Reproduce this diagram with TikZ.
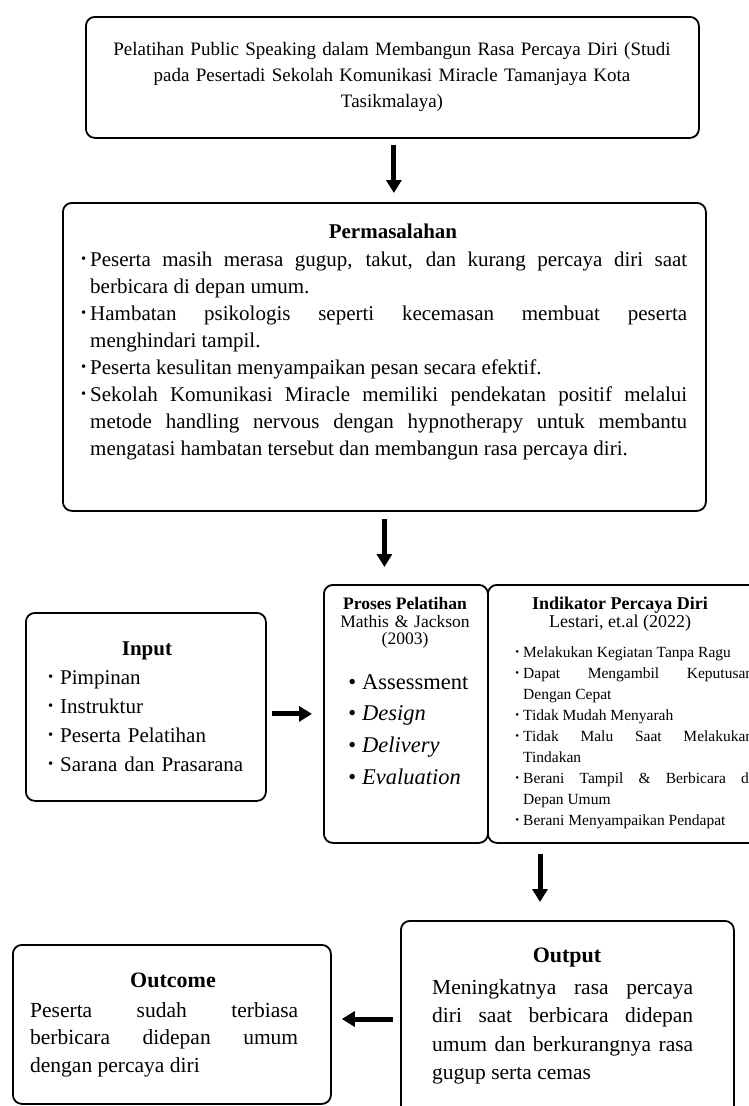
\documentclass[tikz,border=0pt]{standalone}
\usepackage{fontspec}
\setmainfont{Liberation Serif}
\usetikzlibrary{arrows.meta,calc}
\newcommand\smbul[1][4pt]{\leavevmode\llap{\raisebox{0.12em}{\scalebox{0.7}{\textbullet}}\hspace{#1}}}
\newcommand\bgbul[1][6pt]{\leavevmode\llap{\textbullet\hspace{#1}}}
\begin{document}
\begin{tikzpicture}[x=1pt,y=-1pt,
  box/.style={draw,line width=1.8pt,rounded corners=9pt,inner sep=0pt,anchor=north west},
  bigarrow/.style={line width=5pt,-{Triangle[width=15pt,length=13pt]}},
  txt/.style={inner sep=0pt,anchor=base},
  blk/.style={inner sep=0pt,anchor=base west,align=justify},
  ]
\useasboundingbox (0,0) rectangle (749,1106);
\clip (0,0) rectangle (749,1106);

% boxes
\node[box,minimum width=613pt,minimum height=121pt] (top) at (85,16) {};
\node[box,minimum width=643pt,minimum height=308pt] (masalah) at (62,202) {};
\node[box,minimum width=240pt,minimum height=188pt] (input) at (25,612) {};
\node[box,minimum width=164pt,minimum height=258pt] (proses) at (323,584) {};
\node[box,minimum width=283pt,minimum height=258pt] (indik) at (487,584) {};
\node[box,minimum width=333pt,minimum height=220pt] (output) at (400,920) {};
\node[box,minimum width=318pt,minimum height=159pt] (outcome) at (12,944) {};

% top text
\node[txt,text width=600pt,align=center,font=\fontsize{19}{26}\selectfont] (toptext) at (392,55)
 {Pelatihan Public Speaking dalam Membangun Rasa Percaya Diri (Studi\\pada Pesertadi Sekolah Komunikasi Miracle Tamanjaya Kota\\Tasikmalaya)};

% permasalahan
\node[txt,font=\bfseries\fontsize{21}{27}\selectfont] (mtitle) at (393,238) {Permasalahan};
\node[blk,text width=597pt,font=\fontsize{21}{27}\selectfont] (mtext) at (90,266)
 {\smbul Peserta masih merasa gugup, takut, dan kurang percaya diri saat\linebreak berbicara di depan umum.\par
  \smbul Hambatan psikologis seperti kecemasan membuat peserta\linebreak menghindari tampil.\par
  \smbul Peserta kesulitan menyampaikan pesan secara efektif.\par
  \smbul Sekolah Komunikasi Miracle memiliki pendekatan positif melalui\linebreak metode handling nervous dengan hypnotherapy untuk membantu\linebreak mengatasi hambatan tersebut dan membangun rasa percaya diri.};

% input
\node[txt,font=\bfseries\fontsize{21}{29}\selectfont] (ititle) at (147,655) {Input};
\node[blk,align=left,text width=200pt,font=\fontsize{21}{29}\selectfont] (itext) at (60,684)
 {\smbul[7pt]Pimpinan\\\smbul[7pt]Instruktur\\\smbul[7pt]Peserta Pelatihan\\\smbul[7pt]Sarana dan Prasarana};

% proses
\node[txt,font=\bfseries\fontsize{17.5}{17.5}\selectfont] (ptitle) at (405,609) {Proses Pelatihan};
\node[txt,text width=160pt,align=center,font=\fontsize{17.5}{17.5}\selectfont] (pauth) at (405,627) {Mathis \& Jackson\\(2003)};
\node[blk,align=left,text width=120pt,font=\fontsize{22.5}{31.7}\selectfont] (ptext) at (362,689)
 {\bgbul Assessment\\\bgbul\textit{Design}\\\bgbul\textit{Delivery}\\\bgbul\textit{Evaluation}};

% indikator
\node[txt,font=\bfseries\fontsize{18}{18}\selectfont] (ktitle) at (620,609) {Indikator Percaya Diri};
\node[txt,font=\fontsize{18}{18}\selectfont] (kauth) at (620,627) {Lestari, et.al (2022)};
\node[blk,text width=230pt,font=\fontsize{15.5}{21}\selectfont] (ktext) at (523,657)
 {\smbul Melakukan Kegiatan Tanpa Ragu\par
  \smbul Dapat Mengambil Keputusan\linebreak Dengan Cepat\par
  \smbul Tidak Mudah Menyarah\par
  \smbul Tidak Malu Saat Melakukan\linebreak Tindakan\par
  \smbul Berani Tampil \& Berbicara di\linebreak Depan Umum\par
  \smbul Berani Menyampaikan Pendapat};

% output
\node[txt,font=\bfseries\fontsize{22}{28.5}\selectfont] (otitle) at (567,962) {Output};
\node[blk,text width=261pt,font=\fontsize{21.5}{28.5}\selectfont] (otext) at (432,994)
 {Meningkatnya rasa percaya\linebreak diri saat berbicara didepan\linebreak umum dan berkurangnya rasa\linebreak gugup serta cemas};

% outcome
\node[txt,font=\bfseries\fontsize{22}{27}\selectfont] (ctitle) at (173,987) {Outcome};
\node[blk,text width=268pt,font=\fontsize{21.5}{27.5}\selectfont] (ctext) at (30,1017)
 {Peserta sudah terbiasa\linebreak berbicara didepan umum\linebreak dengan percaya diri};

% arrows
\draw[bigarrow] ($(top.south)+(1.5,6)$) -- ($(top.south |- masalah.north)+(1.5,-9)$);
\draw[bigarrow] ($(masalah.south)+(0,7)$) -- ($(masalah.south |- proses.north)+(0,-17)$);
\draw[bigarrow] ($(input.east)+(5,7)$) -- ($(input.east -| proses.west)+(-11,7)$);
\draw[bigarrow] ($(indik.south west)+(53,10)$) -- ($(output.north west)+(140,-18)$);
\draw[bigarrow] ($(output.north west)+(-7,99)$) -- ($(outcome.north east)+(10,75)$);
\end{tikzpicture}
\end{document}
